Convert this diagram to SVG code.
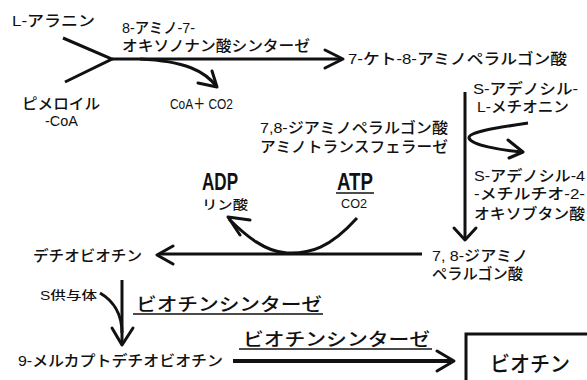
<svg xmlns="http://www.w3.org/2000/svg" width="587" height="380" viewBox="0 0 587 380">
<style>
text{font-family:"Liberation Sans","Noto Sans CJK JP",sans-serif;fill:#111;font-weight:500}
.t{font-size:15px}
.s{font-size:13px}
.b{font-family:"Liberation Sans",sans-serif;font-size:23px;font-weight:bold}
.e{font-size:18px}
.l{fill:none;stroke:#111;stroke-width:3}
.u{fill:none;stroke:#111;stroke-width:1.5}
.h{fill:none;stroke:#111;stroke-width:3;stroke-linecap:round;stroke-linejoin:round}
</style>
<rect width="587" height="380" fill="#fff"/>
<g id="connectors">
<path class="l" d="M63,38 L112,59 L65,82"/>
<path class="l" d="M112,59 L341,59"/>
<path class="h" d="M325,50 L343,59 L325,68"/>
<path class="l" d="M140,59 C185,61 205,71 217,87"/>
<path class="h" d="M198,83 L217,87 L212,71"/>
<path class="l" d="M465,92 L465,238"/>
<path class="h" d="M454,228 L465,240 L476,228"/>
<path class="l" d="M528,123 C495,128 468,132 469,138 C471,145 500,150 522,152"/>
<path class="h" d="M508,140 L523,152 L509,158"/>
<path class="l" d="M357,218 C330,248 310,254 287,253 C265,252 245,235 229,219"/>
<path class="h" d="M250,220 L228,217 L240,235"/>
<path class="l" d="M159,254 L422,254"/>
<path class="h" d="M173,246 L157,255 L173,264"/>
<path class="l" d="M100,293 C112,300 122,313 122,333"/>
<path class="l" d="M122,280 L122,343"/>
<path class="h" d="M112,328 L122,345 L133,328"/>
<path class="l" d="M233,361 L451,361" style="stroke-width:4"/>
<path class="h" d="M437,351 L454,361 L437,371"/>
<path class="u" d="M133,314 L323,314"/>
<path class="u" d="M239,349 L432,349"/>
<path class="u" d="M336,193 L374,193"/>
</g>
<g id="n-alanine"><text class="t" x="12" y="26" textLength="83" lengthAdjust="spacingAndGlyphs">L-アラニン</text></g>
<g id="n-enzyme1"><text class="t" x="122" y="33" textLength="73" lengthAdjust="spacingAndGlyphs">8-アミノ-7-</text><text class="t" x="122" y="51" textLength="188" lengthAdjust="spacingAndGlyphs">オキソノナン酸シンターゼ</text></g>
<g id="n-kapa"><text class="t" x="348" y="64" textLength="219" lengthAdjust="spacingAndGlyphs">7-ケト-8-アミノペラルゴン酸</text></g>
<g id="n-pimeloyl"><text class="t" x="22" y="109" textLength="78" lengthAdjust="spacingAndGlyphs">ピメロイル</text><text class="t" x="45" y="126" textLength="33" lengthAdjust="spacingAndGlyphs">-CoA</text></g>
<g id="n-coa"><text class="t" x="170" y="109" textLength="63" lengthAdjust="spacingAndGlyphs">CoA＋ CO2</text></g>
<g id="n-sam"><text class="t" x="473" y="94" textLength="105" lengthAdjust="spacingAndGlyphs">S-アデノシル-</text><text class="t" x="477" y="112" textLength="92" lengthAdjust="spacingAndGlyphs">L-メチオニン</text></g>
<g id="n-enzyme2"><text class="t" x="260" y="133" textLength="188" lengthAdjust="spacingAndGlyphs">7,8-ジアミノペラルゴン酸</text><text class="t" x="260" y="152" textLength="188" lengthAdjust="spacingAndGlyphs">アミノトランスフェラーゼ</text></g>
<g id="n-samob"><text class="t" x="474" y="181" textLength="111" lengthAdjust="spacingAndGlyphs">S-アデノシル-4</text><text class="t" x="474" y="199" textLength="111" lengthAdjust="spacingAndGlyphs">-メチルチオ-2-</text><text class="t" x="474" y="219" textLength="111" lengthAdjust="spacingAndGlyphs">オキソブタン酸</text></g>
<g id="n-adp"><text class="b" x="202" y="190" textLength="36" lengthAdjust="spacingAndGlyphs">ADP</text><text class="s" x="202" y="209" textLength="46" lengthAdjust="spacingAndGlyphs">リン酸</text></g>
<g id="n-atp"><text class="b" x="337" y="190" textLength="36" lengthAdjust="spacingAndGlyphs">ATP</text><text class="s" x="341" y="208" textLength="26" lengthAdjust="spacingAndGlyphs">CO2</text></g>
<g id="n-dethiobiotin"><text class="t" x="33" y="261" textLength="109" lengthAdjust="spacingAndGlyphs">デチオビオチン</text></g>
<g id="n-dapa"><text class="t" x="432" y="261" textLength="96" lengthAdjust="spacingAndGlyphs">7, 8-ジアミノ</text><text class="t" x="432" y="279" textLength="91" lengthAdjust="spacingAndGlyphs">ペラルゴン酸</text></g>
<g id="n-sdonor"><text style="font-size:12px" x="40" y="300" textLength="57" lengthAdjust="spacingAndGlyphs">S供与体</text></g>
<g id="n-synthase1"><text class="e" x="136" y="311" textLength="186" lengthAdjust="spacingAndGlyphs">ビオチンシンターゼ</text></g>
<g id="n-mercapto"><text class="t" x="18" y="366" textLength="205" lengthAdjust="spacingAndGlyphs">9-メルカプトデチオビオチン</text></g>
<g id="n-synthase2"><text class="e" x="243" y="346" textLength="187" lengthAdjust="spacingAndGlyphs">ビオチンシンターゼ</text></g>
<g id="n-biotin"><rect x="466" y="334" width="140" height="80" fill="#fff" stroke="#111" stroke-width="3"/><text style="font-size:21px" x="490" y="371" textLength="80" lengthAdjust="spacingAndGlyphs">ビオチン</text></g>
</svg>
